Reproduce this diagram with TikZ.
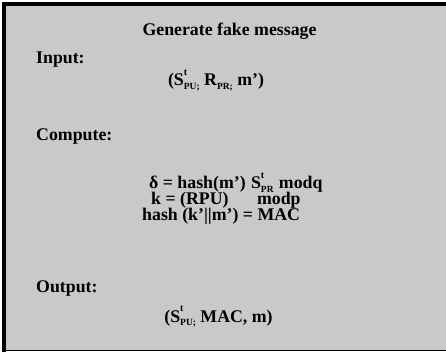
\documentclass[tikz,border=0pt]{standalone}
\usepackage{fontspec}
\setmainfont{Liberation Serif}
\definecolor{boxgray}{RGB}{201,201,201}
\newcommand{\SupSub}[3]{#1\rlap{\raisebox{0.6em}{\fontsize{10}{10}\selectfont #2}}\raisebox{-0.2em}{\fontsize{9.5}{10}\selectfont #3}}
\begin{document}
\begin{tikzpicture}[x=1pt,y=-1pt,
  txt/.style={inner sep=0pt, font=\fontsize{17.8}{20}\selectfont\bfseries},
  tight/.style={text height=11pt, text depth=3pt}]
\useasboundingbox (0,0) rectangle (446,352);
\fill[boxgray] (4,4) rectangle (446,350.5);
\draw[line width=4pt] (4,352) -- (4,4) -- (446,4);
\draw[line width=1.5pt] (4,350.5) -- (446,350.5);
\node[txt, anchor=base] (title) at (229.5,36) {Generate fake message};
\node[txt, anchor=base west] (input) at (36,64) {Input:};
\node[txt, anchor=base] (inval) at (216,86) {(\SupSub{S}{t}{PU;} \SupSub{R}{}{PR;} m')};
\node[txt, anchor=base west] (compute) at (36,141) {Compute:};
\node[txt, tight, anchor=base west] (l1) at (149,189) {δ\hspace{0.25em}=\hspace{0.25em}hash(m')\hspace{0.3em}\SupSub{S}{t}{PR}\hspace{0.3em}modq};
\node[txt, tight, anchor=base west] (l2) at (151,205) {k = (RPU)\hspace{1.6em}modp};
\node[txt, tight, anchor=base west] (l3) at (142,221) {hash (k'||m') = MAC};
\node[txt, anchor=base west] (output) at (36,292) {Output:};
\node[txt, anchor=base] (outval) at (218.5,322) {(\SupSub{S}{t}{PU;} MAC, m)};
\end{tikzpicture}
\end{document}
